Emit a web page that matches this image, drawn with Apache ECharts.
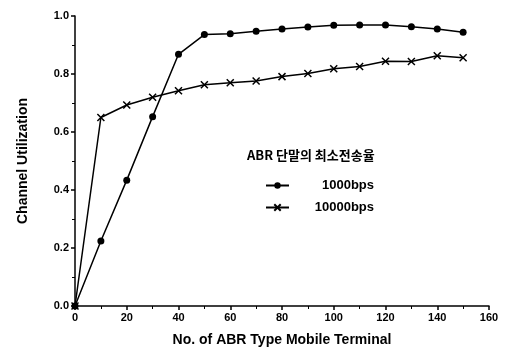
<!DOCTYPE html>
<html>
<head>
<meta charset="utf-8">
<script src="https://cdn.jsdelivr.net/npm/echarts@6/dist/echarts.min.js"></script>
<style>
  html, body { margin: 0; padding: 0; background: #fff; }
  #chart { width: 505px; height: 356px; }
</style>
</head>
<body>
<div id="chart"></div>
<script>
const terminals = [0, 10, 20, 30, 40, 50, 60, 70, 80, 90, 100, 110, 120, 130, 140, 150];
const rate1000 = [0, 0.224, 0.434, 0.653, 0.868, 0.936, 0.939, 0.947, 0.955, 0.962, 0.968, 0.969, 0.969, 0.963, 0.955, 0.944];
const rate10000 = [0, 0.65, 0.693, 0.72, 0.742, 0.763, 0.77, 0.776, 0.791, 0.802, 0.818, 0.826, 0.844, 0.843, 0.863, 0.856];
const seriesNames = ['1000bps', '10000bps'];
const legendTitle = 'ABR 단말의 최소전송율';

const chart = echarts.init(document.getElementById('chart'));
const font = 'Liberation Sans, Arial, sans-serif';
const crossPath = 'path://M0,0L10,10M10,0L0,10';

const option = {
  animation: false,
  grid: { left: 75, right: 16, top: 16, bottom: 50 },
  graphic: [{
    type: 'text', left: 247, top: 149,
    style: { text: legendTitle, font: 'bold 13px "Noto Sans CJK KR", sans-serif', fill: '#000' }
  }],
  legend: {
    orient: 'vertical',
    left: 260, top: 174,
    itemGap: 9,
    itemWidth: 23,
    itemHeight: 8,
    formatter: name => '{t|' + name + '}',
    textStyle: {
      rich: {
        t: { width: 80, align: 'right', fontFamily: font, fontWeight: 'bold', fontSize: 13, color: '#000' }
      }
    },
    data: seriesNames
  },
  xAxis: {
    type: 'value', min: 0, max: 160, interval: 20,
    name: 'No. of ABR Type Mobile Terminal',
    nameLocation: 'middle', nameGap: 27,
    nameTextStyle: { fontFamily: font, fontWeight: 'bold', fontSize: 14, color: '#000' },
    axisLine: { lineStyle: { color: '#000', width: 1.5 } },
    axisTick: { length: 4, lineStyle: { color: '#000', width: 1.5 } },
    minorTick: { show: true, splitNumber: 2, length: 3, lineStyle: { color: '#000' } },
    axisLabel: { fontFamily: font, fontWeight: 'bold', fontSize: 11, color: '#000', margin: 6 },
    splitLine: { show: false }
  },
  yAxis: {
    type: 'value', min: 0, max: 1, interval: 0.2,
    name: 'Channel Utilization',
    nameLocation: 'middle', nameGap: 45,
    nameTextStyle: { fontFamily: font, fontWeight: 'bold', fontSize: 14, color: '#000' },
    axisLine: { show: true, lineStyle: { color: '#000', width: 1.5 } },
    axisTick: { show: true, length: 4, lineStyle: { color: '#000', width: 1.5 } },
    minorTick: { show: true, splitNumber: 2, length: 3, lineStyle: { color: '#000' } },
    axisLabel: {
      fontFamily: font, fontWeight: 'bold', fontSize: 11, color: '#000', margin: 6,
      formatter: v => v.toFixed(1)
    },
    splitLine: { show: false }
  },
  series: [
    {
      name: seriesNames[0], type: 'line',
      data: terminals.map((x, i) => [x, rate1000[i]]),
      symbol: 'circle', symbolSize: 7,
      itemStyle: { color: '#000' },
      lineStyle: { color: '#000', width: 1.5 }
    },
    {
      name: seriesNames[1], type: 'line',
      data: terminals.map((x, i) => [x, rate10000[i]]),
      symbol: crossPath, symbolSize: 7,
      itemStyle: { color: 'none', borderColor: '#000', borderWidth: 1.5 },
      lineStyle: { color: '#000', width: 1.5 }
    }
  ]
};
chart.setOption(option);
</script>
</body>
</html>
